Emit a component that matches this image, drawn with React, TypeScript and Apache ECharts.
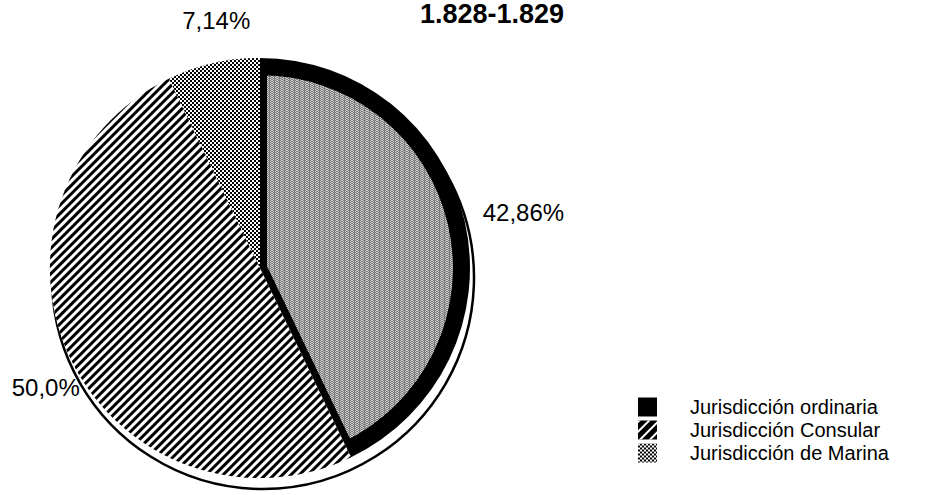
import React, { useEffect, useRef } from "react";
import * as echarts from "echarts";

const TITLE = "1.828-1.829";
const CATEGORIES = ["Jurisdicción ordinaria", "Jurisdicción Consular", "Jurisdicción de Marina"];
const VALUES = [42.86, 50.0, 7.14];
const VALUE_LABELS = ["42,86%", "50,0%", "7,14%"];

const FONT = "'Liberation Sans', Arial, Helvetica, sans-serif";
const CENTER = [260, 268];
const RADIUS = 210;
const LABEL_OFFSETS = [
  [18, -9],
  [9, 28],
  [37, -43],
];

const hatchDecal = {
  symbol: "rect",
  symbolSize: 1,
  color: "#000",
  dashArrayX: [1, 0],
  dashArrayY: [2.5, 2.3],
  rotation: -Math.PI * 0.25,
};
const checkerDecal = {
  symbol: "rect",
  symbolSize: 1,
  color: "#000",
  dashArrayX: [[2, 2], [0, 2, 2, 0]],
  dashArrayY: [2, 0],
};
const noiseDecal = {
  symbol: "rect",
  symbolSize: 1,
  color: "rgba(255,255,255,0.6)",
  dashArrayX: [[1, 2, 1, 1], [0, 1, 2, 2]],
  dashArrayY: [1, 0],
};

export default function App() {
  const ref = useRef<HTMLDivElement>(null);
  useEffect(() => {
    if (!ref.current) return;
    const chart = echarts.init(ref.current, null, { renderer: "svg" });
    const styles = [
      { color: "#000" },
      { color: "#fff", decal: hatchDecal },
      { color: "#fff", decal: checkerDecal },
    ];
    const base = CATEGORIES.map((name, i) => ({ name, value: VALUES[i] }));
    chart.setOption({
      animation: false,
      backgroundColor: "#fff",
      title: {
        text: TITLE,
        left: 420,
        top: 0,
        padding: 0,
        textStyle: { fontFamily: FONT, fontSize: 27, fontWeight: "bold", color: "#000" },
      },
      legend: {
        orient: "vertical",
        left: 638,
        top: 397,
        padding: 0,
        itemWidth: 19,
        itemHeight: 19,
        itemGap: 3,
        icon: "rect",
        selectedMode: false,
        textStyle: { fontFamily: FONT, fontSize: 20, color: "#000", padding: [0, 0, 0, 28] },
        data: [
          { name: CATEGORIES[0], itemStyle: { color: "#000", borderWidth: 0 } },
          {
            name: CATEGORIES[1],
            itemStyle: {
              color: "#000",
              borderWidth: 0,
              decal: { symbol: "rect", symbolSize: 1, color: "#fff", dashArrayX: [1, 0], dashArrayY: [1.5, 5], rotation: -Math.PI / 4 },
            },
          },
          { name: CATEGORIES[2], itemStyle: { color: "#fff", borderWidth: 0, decal: checkerDecal } },
        ],
      },
      series: [
        {
          type: "pie",
          z: 1,
          silent: true,
          center: [CENTER[0] + 3, CENTER[1] + 10],
          radius: RADIUS + 1,
          label: { show: false },
          labelLine: { show: false },
          itemStyle: { color: "#fff", borderColor: "#000", borderWidth: 2.5 },
          data: [{ name: "_rim", value: VALUES.reduce((a, b) => a + b, 0) }],
        },
        {
          type: "pie",
          z: 2,
          silent: true,
          center: CENTER,
          radius: RADIUS,
          startAngle: 90,
          clockwise: true,
          avoidLabelOverlap: false,
          label: {
            show: true,
            position: "outside",
            distanceToLabelLine: 0,
            fontFamily: FONT,
            fontSize: 24,
            color: "#000",
            formatter: (p: any) => VALUE_LABELS[p.dataIndex],
          },
          labelLine: { show: false, length: 0, length2: 0 },
          labelLayout: (p: any) => ({ dx: LABEL_OFFSETS[p.dataIndex][0], dy: LABEL_OFFSETS[p.dataIndex][1] }),
          itemStyle: { borderWidth: 0 },
          data: base.map((d, i) => ({ ...d, itemStyle: styles[i] })),
        },
        {
          type: "pie",
          z: 3,
          silent: true,
          center: CENTER,
          radius: RADIUS - 10,
          startAngle: 90,
          clockwise: true,
          label: { show: false },
          labelLine: { show: false },
          data: base.map((d, i) => ({
            ...d,
            itemStyle:
              i === 0
                ? { color: "#7e7e7e", borderColor: "#000", borderWidth: 14, decal: noiseDecal }
                : { color: "rgba(0,0,0,0)", borderWidth: 0 },
          })),
        },
        {
          type: "pie",
          z: 4,
          silent: true,
          center: CENTER,
          radius: RADIUS,
          startAngle: 90,
          clockwise: true,
          label: { show: false },
          labelLine: { show: false },
          data: base.map((d, i) => ({
            ...d,
            itemStyle: i === 0 ? { color: "rgba(0,0,0,0)", borderWidth: 0 } : { ...styles[i], borderWidth: 0 },
          })),
        },
      ],
    });
    return () => chart.dispose();
  }, []);
  return <div ref={ref} style={{ position: "fixed", left: 0, top: 0, width: 945, height: 495 }} />;
}
